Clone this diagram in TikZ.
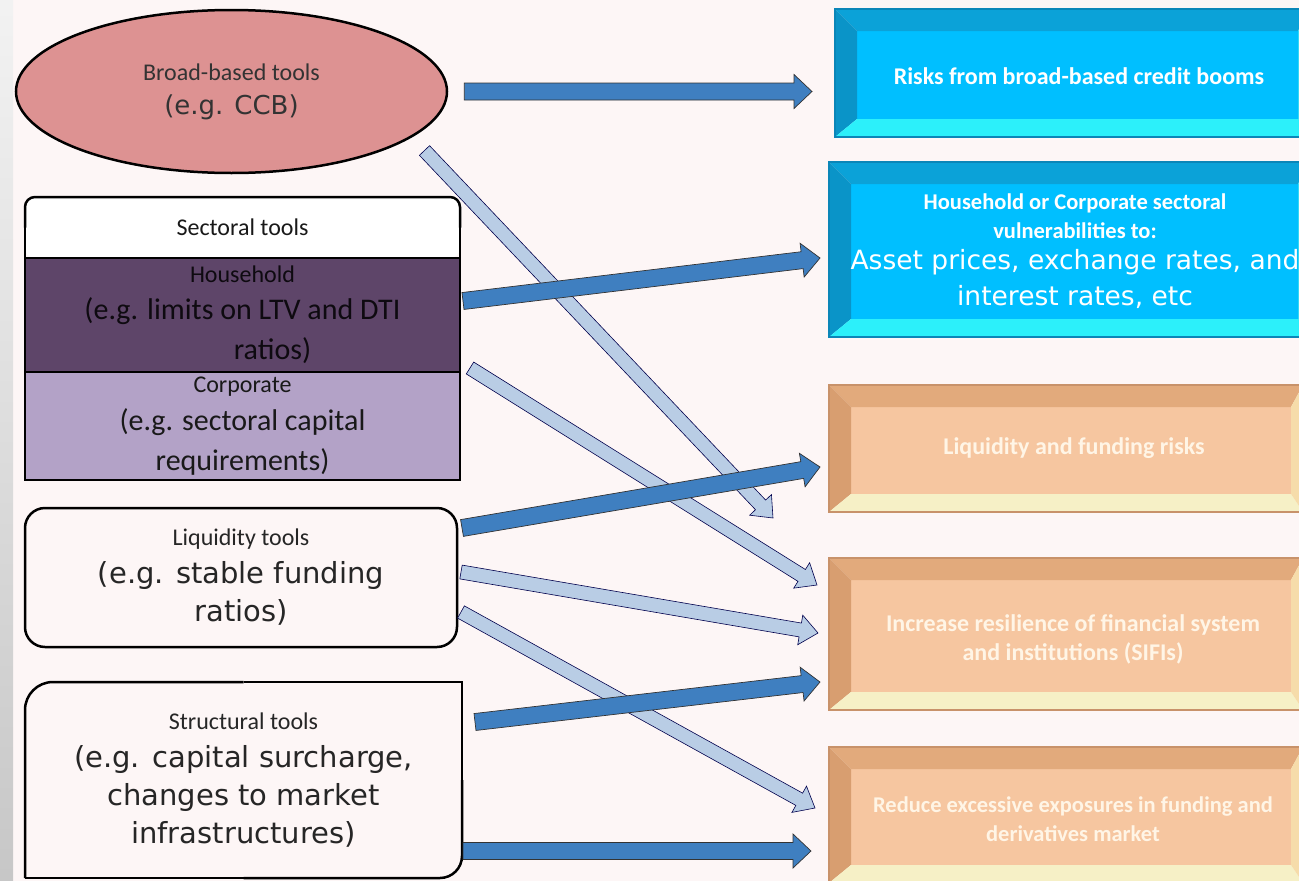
\documentclass[tikz,border=0pt]{standalone}
\usepackage{fontspec}
\setmainfont{DejaVu Sans}
\newfontfamily\cali{Carlito}
\usetikzlibrary{shapes.geometric,calc,positioning}

\definecolor{bgpink}{HTML}{FDF6F6}
\definecolor{ccbred}{HTML}{DD9292}
\definecolor{hhpurple}{HTML}{5E4569}
\definecolor{corplilac}{HTML}{B3A2C7}
\definecolor{arrowdark}{HTML}{3F7FC0}
\definecolor{arrowlight}{HTML}{B9CDE5}
\definecolor{skyface}{HTML}{00BFFF}
\definecolor{skytop}{HTML}{0BA2D8}
\definecolor{skyleft}{HTML}{0A94C8}
\definecolor{skybottom}{HTML}{2CF0FA}
\definecolor{skyright}{HTML}{35D8F5}
\definecolor{skyedge}{HTML}{0B86B8}
\definecolor{peachface}{HTML}{F6C6A0}
\definecolor{peachtop}{HTML}{E2AA7C}
\definecolor{peachleft}{HTML}{D89E70}
\definecolor{peachbottom}{HTML}{F6F0C6}
\definecolor{peachright}{HTML}{F6DCAA}
\definecolor{peachedge}{HTML}{C8926A}
\definecolor{peachtext}{HTML}{FFF5E6}

\newcommand{\lbl}{\cali\fontsize{24}{29}\selectfont}
\newcommand{\bigtxt}{\fontsize{29}{38}\selectfont}
\newcommand{\ccbtxt}{\fontsize{26}{34}\selectfont}
\newcommand{\sectxt}{\cali\fontsize{30}{40}\selectfont}
\newcommand{\boxtxt}{\cali\bfseries\fontsize{24}{29}\selectfont}
\newcommand{\boxsmall}{\cali\bfseries\fontsize{22.5}{29}\selectfont}
\newcommand{\bigright}{\fontsize{26.5}{36}\selectfont}

% block arrow: style, from, to, half shaft, half head
\newcommand{\fatarrow}[5]{%
  \draw[#1] let \p1=(#2), \p2=(#3),
    \n1={atan2(\y2-\y1,\x2-\x1)}, \n2={veclen(\x2-\x1,\y2-\y1)-18pt} in
    ($(\p1)+(\n1+90:#4)$) -- ($(\p1)+(\n1:\n2*1pt)+(\n1+90:#4)$)
    -- ($(\p1)+(\n1:\n2*1pt)+(\n1+90:#5)$) -- (\p2)
    -- ($(\p1)+(\n1:\n2*1pt)+(\n1-90:#5)$) -- ($(\p1)+(\n1:\n2*1pt)+(\n1-90:#4)$)
    -- ($(\p1)+(\n1-90:#4)$) -- cycle;}

% bevelled frame round a face node
\newcommand{\bevel}[2]{%
  \fill[#2top] (#1.north west) -- (#1.north east) -- ($(#1.north east)+(12,-22)$) -- ($(#1.north west)+(-22,-22)$) -- cycle;
  \fill[#2left] (#1.north west) -- ($(#1.north west)+(-22,-22)$) -- ($(#1.south west)+(-22,18)$) -- (#1.south west) -- cycle;
  \fill[#2bottom] (#1.south west) -- ($(#1.south west)+(-22,18)$) -- ($(#1.south east)+(12,18)$) -- (#1.south east) -- cycle;
  \fill[#2right] (#1.south east) -- ($(#1.south east)+(12,18)$) -- ($(#1.north east)+(12,-22)$) -- (#1.north east) -- cycle;
  \draw[#2edge, line width=1.5pt] ($(#1.north west)+(-22,-22)$) rectangle ($(#1.south east)+(12,18)$);}

\begin{document}
\begin{tikzpicture}[x=1pt,y=-1pt,
  toolbox/.style={draw=black, line width=2.5pt, fill=bgpink, inner sep=0pt, outer sep=0pt, align=center, font=\bigtxt, text=black!85},
  sectbox/.style={inner sep=0pt, outer sep=0pt, minimum width=435, align=center, font=\sectxt, text=black!90},
  facebox/.style={inner sep=0pt, outer sep=0pt},
  righttxt/.style={align=center, inner sep=0pt, font=\boxtxt},
  darkarrow/.style={fill=arrowdark, draw=black!80, line width=0.7pt},
  lightarrow/.style={fill=arrowlight, draw=black!70!blue, line width=0.6pt}]

\useasboundingbox (0,0) rectangle (1299,881);
\clip (0,0) rectangle (1299,881);
\fill[bgpink] (0,0) rectangle (1299,881);
\shade[top color=black!5, bottom color=black!22] (0,0) rectangle (13,881);

% tools
\node[ellipse, draw=black, line width=2.5pt, fill=ccbred, minimum width=431, minimum height=163, inner sep=0pt, align=center, font=\ccbtxt, text=black!80] (broad) at (231.5,91.5) {{\lbl Broad-based tools}\\(e.g. CCB)};

\node[sectbox, fill=white, rounded corners=10, minimum height=61, font=\lbl] (sect) at (242.5,227.5) {Sectoral tools};
\node[sectbox, fill=hhpurple, minimum height=114, text=black!85!hhpurple] (hh) at (242.5,315) {{\lbl Household}\\[-3pt](e.g. limits on LTV and DTI\\\hspace*{60pt}ratios)};
\node[sectbox, fill=corplilac, minimum height=108] (corp) at (242.5,426) {{\lbl Corporate}\\[-2pt](e.g. sectoral capital\\requirements)};
\draw[line width=2.5pt, rounded corners=10] (sect.west) -- (sect.north west) -- (sect.north east) -- (sect.east);
\draw[line width=2.5pt, line cap=round] (sect.west) -- (corp.south west) -- (corp.south east) -- (sect.east);
\draw[line width=2pt] (hh.north west) -- (hh.north east) (corp.north west) -- (corp.north east);

\node[toolbox, rounded corners=20, minimum width=432, minimum height=139] (liq) at (241,577.5) {{\lbl Liquidity tools}\\(e.g. stable funding\\ratios)};

\node[toolbox, draw=none, minimum width=437, minimum height=196] (struc) at (243.5,780) {{\lbl Structural tools}\\(e.g. capital surcharge,\\changes to market\\infrastructures)};
\draw[line width=2.5pt, rounded corners=28] (struc.south west) -- (struc.north west) -- (struc.north);
\draw[line width=2.5pt] (struc.north) -- (struc.north east) -- (struc.east);
\draw[line width=2.5pt, rounded corners=22] (struc.east) -- (struc.south east) -- (struc.south);
\draw[line width=2.5pt] (struc.south) -- (struc.south west);

% risks
\node[facebox, fill=skyface, minimum width=441, minimum height=88] (boom) at (1077.5,75) {};
\node[facebox, fill=skyface, minimum width=447, minimum height=135] (vuln) at (1074.5,251.5) {};
\node[facebox, fill=peachface, minimum width=440, minimum height=87] (liqrisk) at (1071,450.5) {};
\node[facebox, fill=peachface, minimum width=440, minimum height=112] (resil) at (1071,636) {};
\node[facebox, fill=peachface, minimum width=440, minimum height=96] (expo) at (1071,817) {};
\bevel{boom}{sky}
\bevel{vuln}{sky}
\bevel{liqrisk}{peach}
\bevel{resil}{peach}
\bevel{expo}{peach}

\node[righttxt, text=white] (boom-t) at (1079,76) {Risks from broad-based credit booms};
\node[righttxt, text=white, font=\bigright] (vuln-t) at (1075,251) {{\boxsmall Household or Corporate sectoral}\\[-7pt]{\boxsmall vulnerabilities to:}\\[-5pt]Asset prices, exchange rates, and\\interest rates, etc};
\node[righttxt, text=peachtext] (liqrisk-t) at (1074,448) {Liquidity and funding risks};
\node[righttxt, text=peachtext] (resil-t) at (1073,639) {Increase resilience of financial system\\and institutions (SIFIs)};
\node[righttxt, text=peachtext, font=\boxsmall] (expo-t) at (1073,819) {Reduce excessive exposures in funding and\\derivatives market};

% arrows
\fatarrow{lightarrow}{$(broad.center)+(193,59)$}{$(liqrisk.south west)+(-78,24)$}{7pt}{15pt}
\fatarrow{lightarrow}{$(corp.north east)+(10,-4)$}{$(resil.west)+(-34,-51)$}{7pt}{15pt}
\fatarrow{lightarrow}{$(liq.east)+(4,-5.5)$}{$(resil.west)+(-33,-3)$}{7pt}{15pt}
\fatarrow{lightarrow}{$(liq.east)+(4,34.5)$}{$(expo.west)+(-36,-9)$}{7pt}{15pt}
\fatarrow{darkarrow}{$(broad.east)+(16,0)$}{$(broad.east -| boom.west)+(-45,0)$}{8.5pt}{17pt}
\fatarrow{darkarrow}{$(hh.east)+(3,-14)$}{$(vuln.west)+(-31,6.5)$}{8.5pt}{17pt}
\fatarrow{darkarrow}{$(liq.east)+(5,-49.5)$}{$(liqrisk.west)+(-31,16.5)$}{8.5pt}{17pt}
\fatarrow{darkarrow}{$(struc.east)+(13,-58)$}{$(resil.west)+(-31,46)$}{8.5pt}{17pt}
\fatarrow{darkarrow}{$(struc.east)+(1,71)$}{$(expo.west)+(-40,34)$}{8.5pt}{17pt}
\end{tikzpicture}
\end{document}
